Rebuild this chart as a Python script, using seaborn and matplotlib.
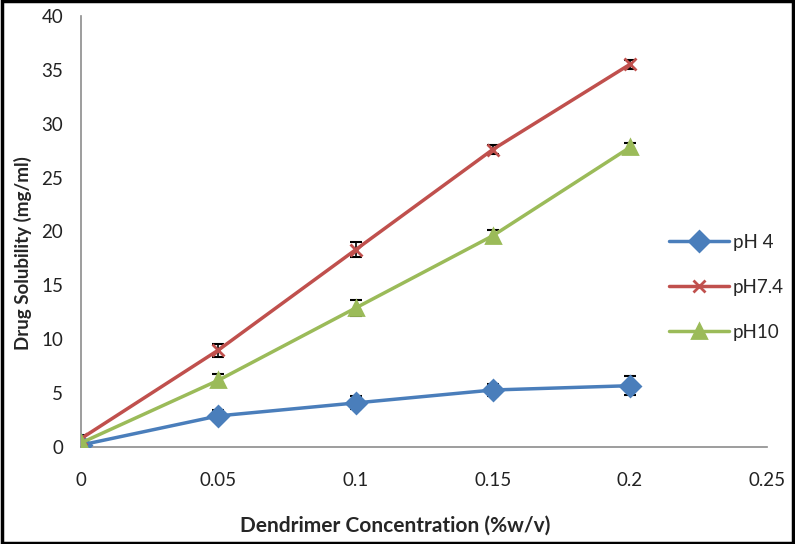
import numpy as np
import pandas as pd
import matplotlib
matplotlib.use('Agg')
import matplotlib.pyplot as plt
import seaborn as sns

conc = [0, 0.05, 0.1, 0.15, 0.2]
ph4 = [0.2, 2.9, 4.1, 5.3, 5.7]
ph4_err = [0.3, 0.5, 0.6, 0.6, 0.9]
ph74 = [0.8, 9.0, 18.3, 27.6, 35.5]
ph74_err = [0.3, 0.6, 0.7, 0.4, 0.4]
ph10 = [0.4, 6.2, 12.9, 19.6, 27.8]
ph10_err = [0.3, 0.6, 0.7, 0.5, 0.4]

series = ['pH 4', 'pH7.4', 'pH10']
colors = ['#4A7EBB', '#C0504D', '#9BBB59']
markers = ['D', 'x', '^']

df = pd.DataFrame({
    'conc': conc * 3,
    'sol': ph4 + ph74 + ph10,
    'err': ph4_err + ph74_err + ph10_err,
    'series': [s for s in series for _ in conc],
})

sns.set_style('white')
plt.rcParams['font.family'] = ['Lato', 'DejaVu Sans']

fig = plt.figure(figsize=(7.95, 5.44), dpi=100)
ax = fig.add_axes([0.102, 0.178, 0.863, 0.793])

# error bars first so markers sit on top
for s in series:
    d = df[df['series'] == s]
    ax.errorbar(d['conc'], d['sol'], yerr=d['err'], fmt='none',
                ecolor='black', elinewidth=1.2, capsize=4, capthick=1.5, zorder=2)

for s, c, m in zip(series, colors, markers):
    d = df[df['series'] == s]
    sns.lineplot(data=d, x='conc', y='sol', color=c, marker=m, label=s,
                 linewidth=2.5, markersize=10 if m != 'x' else 9,
                 markeredgewidth=2.0, markeredgecolor=c, ax=ax, zorder=3)

ax.set_xlim(0, 0.25)
ax.set_ylim(0, 40)
ax.set_xticks([0, 0.05, 0.1, 0.15, 0.2, 0.25])
ax.set_xticklabels(['0', '0.05', '0.1', '0.15', '0.2', '0.25'])
ax.set_yticks(range(0, 41, 5))
ax.tick_params(axis='both', labelsize=13.5, length=5, color='#8c8c8c',
               direction='out', colors='#8c8c8c', labelcolor='#222222', pad=8)
ax.tick_params(axis='x', pad=13)
for side in ['top', 'right']:
    ax.spines[side].set_visible(False)
for side in ['left', 'bottom']:
    ax.spines[side].set_color('#8c8c8c')
    ax.spines[side].set_linewidth(1.2)

ax.set_xlabel('Dendrimer Concentration (%w/v)', fontsize=15, fontweight='bold')
ax.xaxis.set_label_coords(0.458, -0.159)
ax.set_ylabel('Drug Solubility (mg/ml)', fontsize=13.5, fontweight='bold')
ax.yaxis.set_label_coords(-0.072, 0.45)

handles, labels = ax.get_legend_handles_labels()
ax.legend(handles, labels, loc='upper left', bbox_to_anchor=(0.832, 0.534),
          frameon=False, fontsize=13.5, handlelength=3.2, labelspacing=1.5, handletextpad=0.2)

# black frame around whole figure
fig.patches.append(plt.Rectangle((0.002, 0.002), 0.996, 0.996, transform=fig.transFigure,
                                 fill=False, edgecolor='black', linewidth=2.5))

fig.savefig('out.png', dpi=100)
